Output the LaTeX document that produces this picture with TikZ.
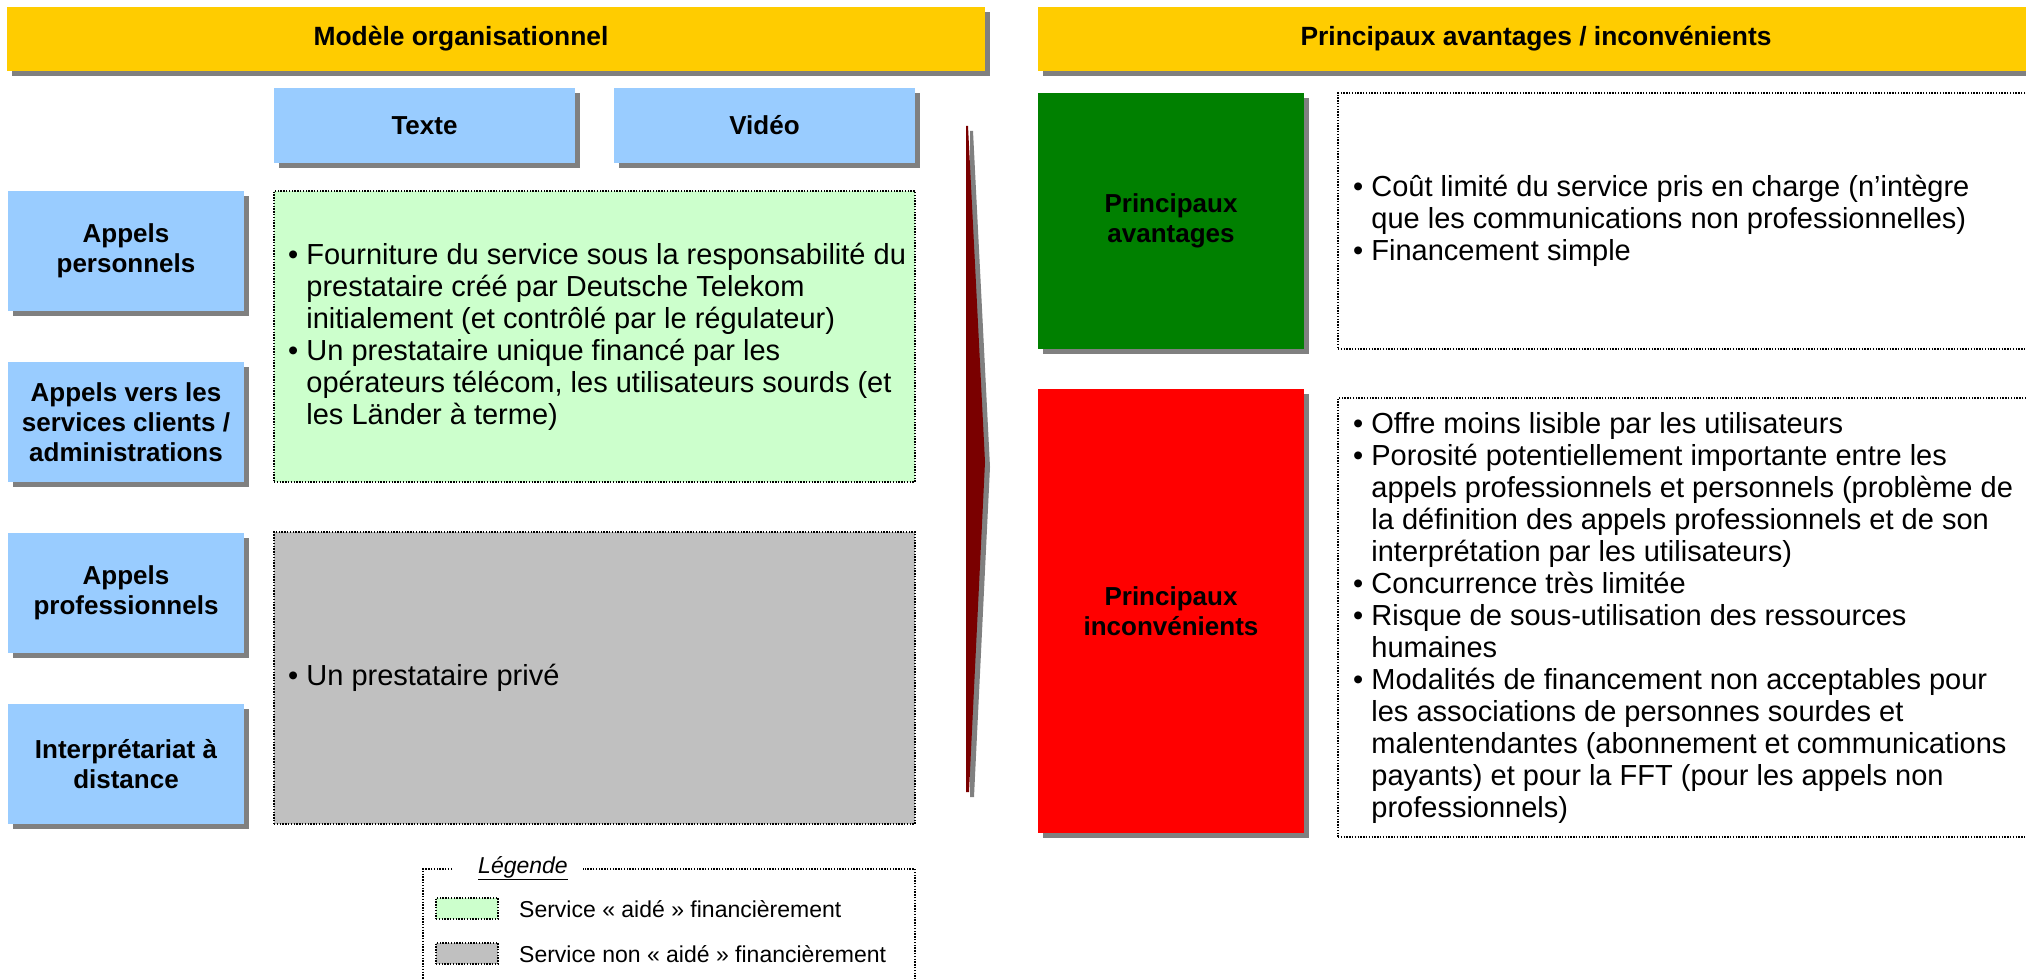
\documentclass[tikz,border=0pt]{standalone}
\usepackage{fontspec}
\setmainfont{Liberation Sans}
\usetikzlibrary{shadows}
\definecolor{hdr}{HTML}{FFCC00}
\definecolor{lblue}{HTML}{99CCFF}
\definecolor{lgreen}{HTML}{CCFFCC}
\definecolor{lgray}{HTML}{C0C0C0}
\definecolor{dgreen}{HTML}{008000}
\definecolor{bred}{HTML}{FF0000}
\definecolor{darr}{HTML}{7A0000}
\definecolor{shd}{HTML}{808080}
\newcommand\ind{\hphantom{•\ }}
\begin{document}
\begin{tikzpicture}[x=1pt,y=-1pt,
  shadowed/.style={drop shadow={shadow xshift=5pt,shadow yshift=-5pt,fill=shd,opacity=1}},
  box/.style={rectangle,inner sep=0pt,outer sep=0pt,anchor=north west},
  dotbox/.style={draw=black,line width=1.4pt,dash pattern=on 1.4pt off 1.4pt},
  lbl/.style={font=\bfseries\fontsize{26}{30}\selectfont,align=center,text=black},
  hdrtext/.style={font=\bfseries\fontsize{26.4}{30}\selectfont},
  body/.style={font=\fontsize{29}{32}\selectfont,align=left,anchor=west,inner sep=0pt},
  legtxt/.style={font=\fontsize{23}{26}\selectfont,anchor=west,inner sep=0pt}
]
\useasboundingbox (0,0) rectangle (2026,979);
\clip (0,0) rectangle (2026,979);

% headers
\node[box,fill=hdr,shadowed,minimum width=978pt,minimum height=64pt] (hdrL) at (7,7) {};
\node[hdrtext] (hdrLt) at (461,39) {Modèle organisationnel};
\node[box,fill=hdr,shadowed,minimum width=1000pt,minimum height=64pt] (hdrR) at (1038,7) {};
\node[hdrtext] (hdrRt) at (1536,39) {Principaux avantages / inconvénients};

% column headers
\node[box,fill=lblue,shadowed,minimum width=301pt,minimum height=75pt,lbl] (texte) at (274,88) {Texte};
\node[box,fill=lblue,shadowed,minimum width=301pt,minimum height=75pt,lbl] (video) at (614,88) {Vidéo};

% row labels
\node[box,fill=lblue,shadowed,minimum width=236pt,minimum height=120pt,lbl] (ap) at (8,191) {Appels\\personnels};
\node[box,fill=lblue,shadowed,minimum width=236pt,minimum height=120pt,lbl] (avs) at (8,362) {Appels vers les\\services clients /\\administrations};
\node[box,fill=lblue,shadowed,minimum width=236pt,minimum height=120pt,lbl] (apro) at (8,533) {Appels\\professionnels};
\node[box,fill=lblue,shadowed,minimum width=236pt,minimum height=120pt,lbl] (id) at (8,704) {Interprétariat à\\distance};

% content boxes
\node[box,fill=lgreen,dotbox,minimum width=641pt,minimum height=291pt] (gbox) at (274,191) {};
\node[body] (gtxt) at ([xshift=14pt]gbox.west) {• Fourniture du service sous la responsabilité du\\\ind prestataire créé par Deutsche Telekom\\\ind initialement (et contrôlé par le régulateur)\\• Un prestataire unique financé par les\\\ind opérateurs télécom, les utilisateurs sourds (et\\\ind les Länder à terme)};
\node[box,fill=lgray,dotbox,minimum width=641pt,minimum height=292pt] (ybox) at (274,532) {};
\node[body] (ytxt) at ([xshift=14pt]ybox.west) {• Un prestataire privé};

% arrow
\fill[shd] (970,131) -- (973,131) -- (990,467) -- (974,797) -- (970,797) -- cycle;
\fill[darr] (966,126) -- (968,126) -- (985,462) -- (969,792) -- (966,792) -- cycle;

% right side
\node[box,fill=dgreen,shadowed,minimum width=266pt,minimum height=256pt,lbl] (av) at (1038,93) {Principaux\\avantages};
\node[box,dotbox,minimum width=700pt,minimum height=256pt] (avbox) at (1338,93) {};
\node[body] (avtxt) at ([xshift=15pt]avbox.west) {• Coût limité du service pris en charge (n’intègre\\\ind que les communications non professionnelles)\\• Financement simple};

\node[box,fill=bred,shadowed,minimum width=266pt,minimum height=444pt,lbl] (inc) at (1038,389) {Principaux\\inconvénients};
\node[box,dotbox,minimum width=700pt,minimum height=439pt] (incbox) at (1338,398) {};
\node[body] (inctxt) at ([xshift=15pt]incbox.west) {• Offre moins lisible par les utilisateurs\\• Porosité potentiellement importante entre les\\\ind appels professionnels et personnels (problème de\\\ind la définition des appels professionnels et de son\\\ind interprétation par les utilisateurs)\\• Concurrence très limitée\\• Risque de sous-utilisation des ressources\\\ind humaines\\• Modalités de financement non acceptables pour\\\ind les associations de personnes sourdes et\\\ind malentendantes (abonnement et communications\\\ind payants) et pour la FFT (pour les appels non\\\ind professionnels)};

% legend
\coordinate (lg1) at (452,869);
\coordinate (lg2) at (583,869);
\draw[dotbox] (lg1) -- (423,869) -- (423,990) -- (915,990) -- (915,869) -- (lg2);
\node[font=\itshape\fontsize{23}{26}\selectfont,inner sep=0pt] (leg) at (523,868) {\underline{Légende}};
\node[box,fill=lgreen,dotbox,minimum width=62pt,minimum height=21pt] (sw1) at (436,898) {};
\node[legtxt] (lt1) at (519,909) {Service « aidé » financièrement};
\node[box,fill=lgray,dotbox,minimum width=62pt,minimum height=21pt] (sw2) at (436,943) {};
\node[legtxt] (lt2) at (519,954) {Service non « aidé » financièrement};
\end{tikzpicture}
\end{document}
